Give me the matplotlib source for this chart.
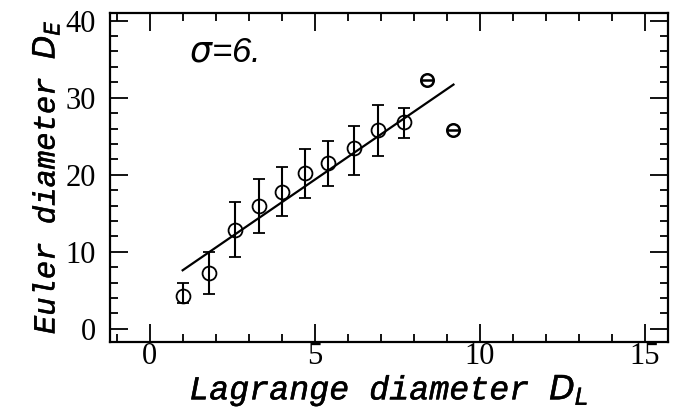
import numpy as np
import matplotlib.pyplot as plt
import matplotlib.patheffects as pe
from matplotlib.ticker import MultipleLocator

# data
d_lag = [1.0, 1.8, 2.6, 3.3, 4.0, 4.7, 5.4, 6.2, 6.9, 7.7]
d_eul = [4.3, 7.3, 12.8, 16.0, 17.7, 20.2, 21.5, 23.5, 25.8, 26.8]
err_lo = [3.4, 4.5, 9.3, 12.5, 14.6, 17.0, 18.5, 20.0, 22.4, 24.8]
err_hi = [6.0, 10.0, 16.5, 19.5, 21.0, 23.3, 24.4, 26.3, 29.0, 28.7]
out_lag = [8.4, 9.2]
out_eul = [32.3, 25.8]
fit_x = [1.0, 9.2]
fit_y = [7.6, 31.7]

fig = plt.figure(figsize=(6.79, 4.17), dpi=100)
ax = fig.add_axes([0.162, 0.18, 0.822, 0.789])

yerr = [np.array(d_eul) - np.array(err_lo), np.array(err_hi) - np.array(d_eul)]
ax.errorbar(d_lag, d_eul, yerr=yerr, fmt='o', mfc='none', mec='black', ms=10,
            mew=1.3, ecolor='black', elinewidth=1.5, capsize=4, capthick=1.5)
ax.plot(out_lag, out_eul, 'o', mfc='none', mec='black', ms=9, mew=1.8)
ax.plot(out_lag, out_eul, '_', color='black', ms=8, mew=1.8)
ax.plot(fit_x, fit_y, color='black', lw=1.6)

ax.set_xlim(-1.2, 15.7)
ax.set_ylim(-1.7, 41)
ax.xaxis.set_major_locator(MultipleLocator(5))
ax.xaxis.set_minor_locator(MultipleLocator(1))
ax.yaxis.set_major_locator(MultipleLocator(10))
ax.yaxis.set_minor_locator(MultipleLocator(2))
ax.tick_params(which='both', direction='in', top=True, right=True, width=1.3)
ax.tick_params(which='major', length=13, labelsize=22, pad=10)
ax.tick_params(axis='x', which='major', pad=0)
ax.tick_params(which='minor', length=6)
for lab in ax.get_xticklabels() + ax.get_yticklabels():
    lab.set_family('Liberation Serif')
for s in ax.spines.values():
    s.set_linewidth(1.6)

ax.text(1.2, 35.9, r'$\sigma$=6.', fontsize=25, style='italic',
        family='Liberation Sans', va='center', ha='left')

thick = [pe.withStroke(linewidth=0.35, foreground='black')]
ax.set_xlabel(r'Lagrange diameter $D_L$', family='Liberation Mono', style='italic',
              fontsize=24, labelpad=1, path_effects=thick)
ax.set_ylabel(r'Euler diameter $D_E$', family='Liberation Mono', style='italic',
              fontsize=22, labelpad=3, path_effects=thick)

fig.savefig('out.png', dpi=100)
